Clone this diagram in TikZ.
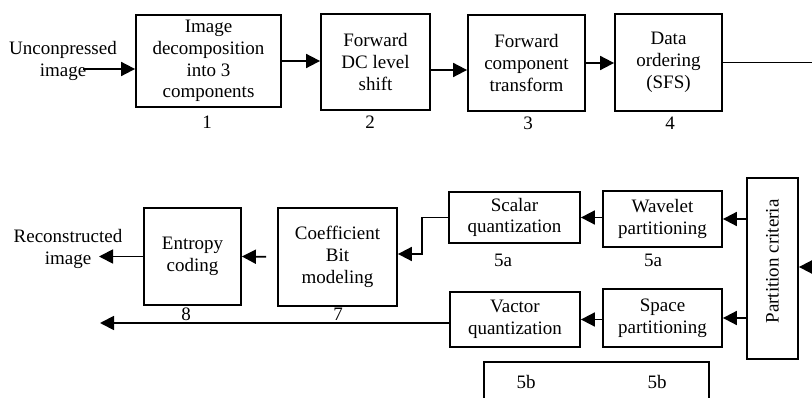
\documentclass[tikz,border=0pt]{standalone}
\usepackage{fontspec}
\setmainfont{Liberation Serif}
\usetikzlibrary{arrows.meta,positioning}
\tikzset{
  blk/.style={draw, line width=1.8pt, align=center, inner sep=0pt,
    font=\rmfamily\fontsize{19}{21.7}\selectfont},
  lbl/.style={inner sep=0pt, align=center, font=\rmfamily\fontsize{19}{21.7}\selectfont},
  ln/.style={line width=1.8pt},
  arr/.style={ln, -{Triangle[length=14pt,width=14pt]}}
}
\begin{document}
\begin{tikzpicture}[x=1pt,y=-1pt]
  \useasboundingbox (0,0) rectangle (812,398);
  \clip (0,0) rectangle (812,398);

  % forward chain
  \foreach \nm/\cx/\cy/\w/\h/\txt in {
    b1/208.5/61/145/92/{Image\\decomposition\\into 3\\components},
    b2/375.5/62/109/96/{Forward\\DC level\\shift},
    b3/526.5/63/117/96/{Forward\\component\\transform},
    b4/668.5/62.5/107/97/{Data\\ordering\\(SFS)}} {
    \node[blk, minimum width=\w pt, minimum height=\h pt] (\nm) at (\cx,\cy) {\txt};
  }
  \foreach \nm/\cx/\cy/\t in {n1/207/122/1, n2/370/122/2, n3/528/123/3, n4/670/123/4}
    \node[lbl] (\nm) at (\cx,\cy) {\t};

  \node[lbl] (src) at (63,61) {Unconpressed\\image};
  \coordinate (in) at (83,69);
  \coordinate (outR) at (812,61);
  \draw[arr] (in) -- (b1.west |- in);
  \draw[arr] (b1.east) -- (b1.east -| b2.west);
  \draw[arr] ([yshift=-8pt]b2.east) -- ([yshift=-8pt]b2.east -| b3.west);
  \draw[arr] (b3.east) -- (b3.east -| b4.west);
  \draw[ln] (b4.east) -- (b4.east -| outR);

  % partitioning and coding
  \node[blk, minimum width=51pt, minimum height=181pt] (pc) at (772.5,268.5)
    {\rotatebox{90}{\hspace*{14pt}Partition criteria}};
  \node[blk, minimum width=119pt, minimum height=56pt] (wp) at (662.5,219) {Wavelet\\partitioning};
  \node[blk, minimum width=119pt, minimum height=58pt] (sp) at (662.5,318) {Space\\partitioning};
  \node[blk, minimum width=131pt, minimum height=51pt] (sq) at (514.5,217.5) {Scalar\\quantization};
  \node[blk, minimum width=130pt, minimum height=55pt] (vq) at (515,319.5) {Vactor\\quantization};
  \node[blk, minimum width=119pt, minimum height=98pt] (coef) at (337.5,257) {Coefficient\\Bit\\modeling};
  \node[blk, minimum width=97pt, minimum height=97pt] (ent) at (192.5,256.5) {Entropy\\coding};
  \node[blk, minimum width=225pt, minimum height=80pt, anchor=north west] (grp) at (483,361) {};

  \foreach \nm/\cx/\cy/\t in {n5/503/260/5a, n6/653/260/5a, n7/338/314/7, n8/186/314/8,
    n9/526/382/5b, n10/657/382/5b}
    \node[lbl] (\nm) at (\cx,\cy) {\t};

  \node[lbl] (dst) at (68,249) {Reconstructed\\image};
  \coordinate (inR) at (812,267);
  \coordinate (outL) at (99,256);
  \coordinate (outB) at (100,323);

  \draw[arr] (inR) -- (inR -| pc.east);
  \draw[arr] (pc.west |- wp) -- (wp.east);
  \draw[arr] (pc.west |- sp) -- (sp.east);
  \draw[arr] (sq.east -| wp.west) -- (sq.east);
  \draw[arr] (vq.east -| sp.west) -- (vq.east);
  \draw[arr] (sq.west) -- ++(-26,0) |- ([yshift=3pt]coef.east);
  \draw[arr, shorten <=11pt] (coef.west) -- (ent.east);
  \draw[arr] (ent.west) -- (ent.west -| outL);
  \draw[arr] (vq.west |- outB) -- (outB);
\end{tikzpicture}
\end{document}
